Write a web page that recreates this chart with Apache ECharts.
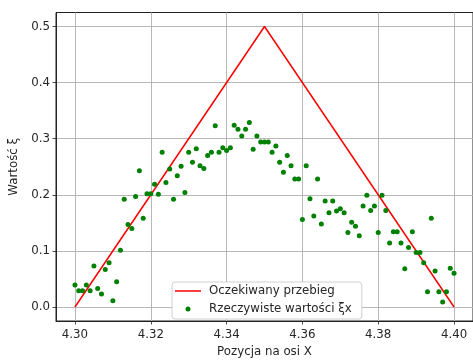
<!DOCTYPE html>
<html>
<head>
<meta charset="utf-8">
<script src="https://cdn.jsdelivr.net/npm/echarts@6/dist/echarts.min.js"></script>
<style>html,body{margin:0;padding:0;background:#fff}#c{width:473px;height:363px}</style>
</head>
<body>
<div id="c"></div>
<script>
const expectedX = [4.30, 4.35, 4.40];
const expectedY = [0, 0.5, 0];
const measuredX = [4.300,4.301,4.302,4.303,4.304,4.305,4.306,4.307,4.308,4.309,
4.310,4.311,4.312,4.313,4.314,4.315,4.316,4.317,4.318,4.319,
4.320,4.321,4.322,4.323,4.324,4.325,4.326,4.327,4.328,4.329,
4.330,4.331,4.332,4.333,4.334,4.335,4.336,4.337,4.338,4.339,
4.340,4.341,4.342,4.343,4.344,4.345,4.346,4.347,4.348,4.349,
4.350,4.351,4.352,4.353,4.354,4.355,4.356,4.357,4.358,4.359,
4.360,4.361,4.362,4.363,4.364,4.365,4.366,4.367,4.368,4.369,
4.370,4.371,4.372,4.373,4.374,4.375,4.376,4.377,4.378,4.379,
4.380,4.381,4.382,4.383,4.384,4.385,4.386,4.387,4.388,4.389,
4.390,4.391,4.392,4.393,4.394,4.395,4.396,4.397,4.398,4.399,4.400];
const measuredY = [0.039,0.029,0.029,0.039,0.029,0.073,0.033,0.023,0.067,0.079,
0.011,0.045,0.101,0.192,0.147,0.140,0.197,0.243,0.158,0.202,
0.202,0.219,0.201,0.276,0.222,0.246,0.192,0.234,0.251,0.204,
0.276,0.258,0.282,0.252,0.247,0.270,0.276,0.323,0.276,0.284,
0.279,0.284,0.324,0.317,0.305,0.317,0.329,0.281,0.305,0.294,
0.294,0.294,0.276,0.287,0.258,0.240,0.270,0.252,0.228,0.228,
0.156,0.252,0.193,0.162,0.228,0.148,0.189,0.168,0.189,0.171,
0.175,0.168,0.133,0.151,0.144,0.127,0.180,0.199,0.172,0.180,
0.133,0.199,0.172,0.114,0.134,0.134,0.114,0.068,0.106,0.134,
0.097,0.097,0.079,0.027,0.158,0.064,0.027,0.009,0.027,0.069,0.060];
const xTicks = [4.30, 4.32, 4.34, 4.36, 4.38, 4.40];
const yTicks = [0.0, 0.1, 0.2, 0.3, 0.4, 0.5];
const seriesNames = ['Oczekiwany przebieg', 'Rzeczywiste wartości ξx'];
const xName = 'Pozycja na osi X';
const yName = 'Wartość ξ';

const FONT = 'DejaVu Sans';
const FS = 11.8;
const TXT = '#262626';
const chart = echarts.init(document.getElementById('c'), null, {renderer: 'canvas'});
chart.setOption({
  animation: false,
  textStyle: {fontFamily: FONT},
  grid: {left: 56, top: 12.5, width: 422, height: 315, show: true, borderColor: '#222', borderWidth: 1, backgroundColor: 'transparent'},
  xAxis: {
    type: 'value', min: 4.295, max: 4.405,
    name: xName, nameLocation: 'middle', nameGap: 25,
    nameTextStyle: {fontFamily: FONT, fontSize: FS, color: TXT},
    axisLine: {show: true, onZero: false, lineStyle: {color: '#222', width: 1}},
    axisTick: {show: true, inside: false, length: 3.5, customValues: xTicks, lineStyle: {color: '#222', width: 0.8}},
    axisLabel: {customValues: xTicks, margin: 7.5, fontFamily: FONT, fontSize: FS, color: TXT, formatter: v => v.toFixed(2)},
    splitLine: {show: true, lineStyle: {color: '#b0b0b0', width: 0.9}}
  },
  yAxis: {
    type: 'value', min: -0.025, max: 0.525,
    name: yName, nameLocation: 'middle', nameGap: 32, nameRotate: 90,
    nameTextStyle: {fontFamily: FONT, fontSize: FS, color: TXT},
    axisLine: {show: true, onZero: false, lineStyle: {color: '#222', width: 1}},
    axisTick: {show: true, inside: false, length: 3.5, customValues: yTicks, lineStyle: {color: '#222', width: 0.8}},
    axisLabel: {customValues: yTicks, margin: 6, fontFamily: FONT, fontSize: FS, color: TXT, formatter: v => v.toFixed(1)},
    splitLine: {show: true, lineStyle: {color: '#b0b0b0', width: 0.9}}
  },
  legend: {
    left: 172, top: 282, orient: 'vertical',
    data: [
      {name: seriesNames[0], icon: 'path://M0,0 L26,0 L26,1.5 L0,1.5 Z', itemStyle: {color: '#ff0000'}},
      {name: seriesNames[1], icon: 'circle', itemStyle: {color: '#008000'}}
    ],
    symbolKeepAspect: true,
    itemWidth: 26, itemHeight: 5, itemGap: 6,
    padding: [3, 10, 4, 3],
    backgroundColor: '#fff', borderColor: '#d0d0d0', borderWidth: 1, borderRadius: 3,
    textStyle: {fontFamily: FONT, fontSize: FS, color: TXT, padding: [0, 0, 0, 3]}
  },
  series: [
    {
      name: seriesNames[0], type: 'line', symbol: 'none',
      data: expectedX.map((x, i) => [x, expectedY[i]]),
      lineStyle: {color: '#ff0000', width: 1.5}, itemStyle: {color: '#ff0000'}, z: 2
    },
    {
      name: seriesNames[1], type: 'scatter', symbol: 'circle', symbolSize: 5,
      data: measuredX.map((x, i) => [x, measuredY[i]]),
      itemStyle: {color: '#008000', opacity: 1}, z: 3
    }
  ]
});
</script>
</body>
</html>
